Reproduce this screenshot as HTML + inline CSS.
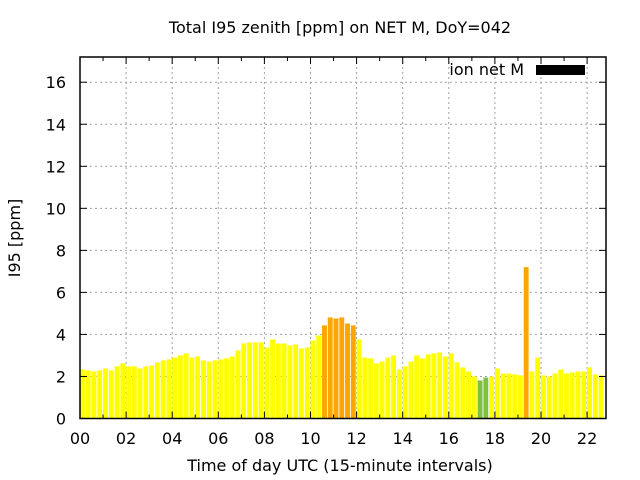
<!DOCTYPE html>
<html><head><meta charset="utf-8"><style>
html,body{margin:0;padding:0;background:#fff}
svg{display:block;font-family:"DejaVu Sans","Liberation Sans",sans-serif}
</style></head><body>
<svg id="c" width="640" height="480" xmlns="http://www.w3.org/2000/svg">
<rect width="640" height="480" fill="#fff"/>
<text x="340" y="33" font-size="16" text-anchor="middle">Total I95 zenith [ppm] on NET M, DoY=042</text>
<text x="340" y="471" font-size="16" text-anchor="middle">Time of day UTC (15-minute intervals)</text>
<text transform="translate(20,238) rotate(-90)" font-size="16" text-anchor="middle">I95 [ppm]</text>
<g id="grid"></g>
<g id="bars"></g>
<g id="axes"></g>
<text x="524" y="75" font-size="16" text-anchor="end">ion net M</text>
<rect x="536" y="65" width="49" height="10" fill="#000"/>
</svg>
<script>
const values = [2.33,2.29,2.24,2.29,2.38,2.29,2.48,2.62,2.48,2.48,2.38,2.48,2.52,2.67,2.76,2.81,2.90,3.0,3.1,2.9,2.95,2.76,2.71,2.76,2.81,2.86,2.95,3.24,3.57,3.62,3.62,3.62,3.38,3.76,3.57,3.57,3.48,3.52,3.33,3.38,3.71,3.95,4.43,4.81,4.76,4.81,4.52,4.43,3.76,2.90,2.86,2.62,2.71,2.90,3.0,2.33,2.48,2.71,3.0,2.86,3.05,3.10,3.14,2.95,3.10,2.67,2.43,2.24,2.0,1.81,1.95,2.0,2.38,2.14,2.14,2.10,2.05,7.2,2.24,2.90,2.05,2.0,2.14,2.33,2.14,2.19,2.24,2.24,2.43,2.10,2.05];
const yTicks = [0,2,4,6,8,10,12,14,16];
const xTickLabels = ["00","02","04","06","08","10","12","14","16","18","20","22"];
const xTickHours = [0,2,4,6,8,10,12,14,16,18,20,22];
const L=80,R=606,T=57,B=418.5,YMAX=17.2,XMAX=22.82;
const xs=h=>L+h/XMAX*(R-L);
const ys=v=>B-v/YMAX*(B-T);
const NS="http://www.w3.org/2000/svg";
function mk(tag,attrs,parent){const e=document.createElementNS(NS,tag);for(const k in attrs)e.setAttribute(k,attrs[k]);parent.appendChild(e);return e;}
const grid=document.getElementById('grid'),bars=document.getElementById('bars'),axes=document.getElementById('axes');
yTicks.forEach(v=>{
  const y=ys(v);
  if(v>0){const g=mk('line',{x1:L,x2:R,y1:y,y2:y,stroke:'#a0a0a0','stroke-dasharray':'2,3'},grid);
  
  }
  const t=mk('text',{x:L-14,y:y+6,'font-size':16,'text-anchor':'end'},axes);t.textContent=v;
  
  
  mk('line',{x1:L,x2:L+7,y1:y,y2:y,stroke:'#000'},axes);
  mk('line',{x1:R,x2:R-7,y1:y,y2:y,stroke:'#000'},axes);
});
xTickHours.forEach((h,i)=>{
  const x=xs(h);
  if(h>0){const g=mk('line',{x1:x,x2:x,y1:T,y2:B,stroke:'#a0a0a0','stroke-dasharray':'2,3'},grid);
  
  }
  const t=mk('text',{x:x,y:444,'font-size':16,'text-anchor':'middle'},axes);t.textContent=xTickLabels[i];
  
  
});
for(let h=0;h<=22;h++){const x=xs(h);
  mk('line',{x1:x,x2:x,y1:B,y2:B-(h%2?4:7),stroke:'#000'},axes);
  mk('line',{x1:x,x2:x,y1:T,y2:T+(h%2?4:7),stroke:'#000'},axes);}
values.forEach((v,i)=>{
  const x0=xs(i*0.25),w=(xs(0.25)-xs(0))*0.85;
  const c=v<2?'#80c040':(v>4?'#ffa500':'#ffff00');
  const wEff=Math.min(w,R-x0);
  if(wEff<=0)return;
  const r=mk('rect',{x:x0,y:ys(v),width:wEff,height:B-ys(v),fill:c},bars);
  
  
});
const f=mk('rect',{x:L,y:T,width:R-L,height:B-T,fill:'none',stroke:'#000','stroke-width':1.5},axes);


</script>
</body></html>
